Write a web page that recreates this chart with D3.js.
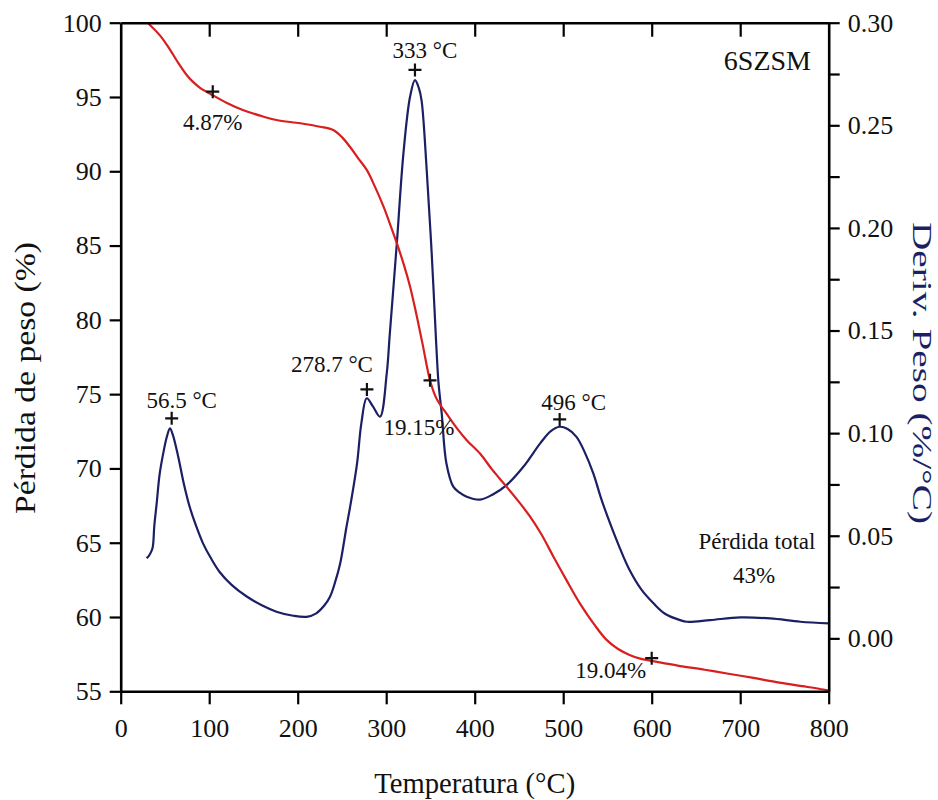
<!DOCTYPE html>
<html><head><meta charset="utf-8">
<script src="https://cdn.jsdelivr.net/npm/d3@7"></script>
<style>
body{margin:0;background:#fff}
svg text{font-family:"Liberation Serif","Times New Roman",serif;fill:#111}
</style>
</head><body>
<svg id="chart" width="938" height="800"></svg>
<script>
// ---- data ----
const tgaTemp = [30,33,45,56,65,75,82,90,101,120,138,160,176,203,225,240,250,259,268,278,287,297,304,312,320,327,334,341,349.5,356,362,368,380,391,406,420,436,450,462,475,489,504,519,535,549,562,575,587,600,615,632,660,685,715,741,770,794,800];
const tgaWeight = [100,99.85,99.1,98.16,97.3,96.45,96.0,95.6,95.22,94.6,94.13,93.7,93.45,93.23,93.0,92.78,92.3,91.65,90.9,90.09,89.0,87.62,86.5,85.16,83.7,82.23,80.4,78.4,75.93,74.8,74.2,73.7,72.7,71.9,71.0,69.9,68.77,67.75,66.8,65.6,64.06,62.45,60.9,59.5,58.46,57.85,57.45,57.2,57.05,56.88,56.7,56.45,56.2,55.9,55.62,55.35,55.12,55.05];

const dtgTemp = [29.4,33,36,38,40.7,44,48,52,55.7,59,65,71,78,85,93,102,112,125,142,160,176,195,210,221,230,236.5,242,248,255,260,267,272,278,285,293,300.6,304,312,319.4,327,332.5,337,340,345.8,351.4,356.3,359,362.7,368,375.8,383,391,406,420,436,455,474,486,496,505,515,524,534,543,553,564,575,588,602,615,632,640,666,700,734,768,800];
const dtgDeriv = [0.039,0.041,0.044,0.055,0.066,0.080,0.090,0.098,0.1023,0.099,0.0885,0.076,0.064,0.055,0.0463,0.039,0.0322,0.0262,0.0205,0.016,0.013,0.011,0.0105,0.0122,0.016,0.0203,0.027,0.0365,0.054,0.066,0.085,0.105,0.117,0.113,0.108,0.129,0.148,0.1925,0.236,0.264,0.272,0.268,0.262,0.228,0.1876,0.1454,0.125,0.1097,0.0853,0.0739,0.071,0.069,0.0676,0.070,0.0747,0.0836,0.095,0.101,0.1031,0.102,0.0982,0.091,0.0804,0.068,0.056,0.044,0.0333,0.024,0.0171,0.012,0.0089,0.0081,0.0089,0.0102,0.0097,0.0081,0.0073];

const xTicks = [0,100,200,300,400,500,600,700,800];
const leftTicks = [55,60,65,70,75,80,85,90,95,100];
const rightTicks = [0,0.05,0.10,0.15,0.20,0.25,0.30];
const rightMinorTicks = [0.025,0.075,0.125,0.175,0.225,0.275];

const markerTemp = [104,57.6,278.2,332.5,349.5,496,600];
const markerValue = [95.36,0.1072,0.1213,0.277,75.93,0.1067,57.23];
const markerSeries = ["TGA","DTG","DTG","DTG","TGA","DTG","TGA"];
const markerLabel = ["4.87%","56.5 °C","278.7 °C","333 °C","19.15%","496 °C","19.04%"];

const sampleName = "6SZSM";
const totalLabel = ["Pérdida total","43%"];

// ---- layout ----
const L = 120.7, R = 828.7, T = 22.7, B = 691.3;
const labelOffsets = [[0,38],[10,-10],[-35,-17],[10,-12],[-11,55],[14,-9],[-41,20]];
const red = "#d81e1e", navy = "#1b1f63";

const svg = d3.select("#chart");
svg.append("rect").attr("width",938).attr("height",800).attr("fill","#fff");

const x = d3.scaleLinear().domain([0,800]).range([L,R]);
const yL = d3.scaleLinear().domain([55,100]).range([B,T]);
const yR = d3.scaleLinear().domain([-0.0258,0.30]).range([B,T]);

// curves
const tgaData = tgaTemp.map((t,i)=>[t,tgaWeight[i]]);
const dtgData = dtgTemp.map((t,i)=>[t,dtgDeriv[i]]);

svg.append("path").datum(dtgData)
  .attr("fill","none").attr("stroke",navy).attr("stroke-width",2.2)
  .attr("d", d3.line().x(d=>x(d[0])).y(d=>yR(d[1])).curve(d3.curveCatmullRom.alpha(0.5)));
svg.append("path").datum(tgaData)
  .attr("fill","none").attr("stroke",red).attr("stroke-width",2.2)
  .attr("d", d3.line().x(d=>x(d[0])).y(d=>yL(d[1])).curve(d3.curveCatmullRom.alpha(0.5)));

// axes
function styleAxis(g){
  g.attr("font-family",null);
  g.select(".domain").attr("stroke","#000").attr("stroke-width",2.6);
  g.selectAll(".tick line").attr("stroke","#000").attr("stroke-width",2.2);
  g.selectAll(".tick text").attr("fill","#111").style("font-size","26px")
   .style("font-family",'"Liberation Serif","Times New Roman",serif');
}
const gB = svg.append("g").attr("transform",`translate(0,${B})`)
  .call(d3.axisBottom(x).tickValues(xTicks).tickSize(13).tickSizeOuter(0).tickFormat(d3.format("d")));
styleAxis(gB);
gB.selectAll(".tick text").attr("y",46).attr("dy",0);

const gT = svg.append("g").attr("transform",`translate(0,${T})`)
  .call(d3.axisBottom(x).tickValues(xTicks.slice(1,-1)).tickSize(14).tickSizeOuter(0).tickFormat(""));
styleAxis(gT);

const gL = svg.append("g").attr("transform",`translate(${L},0)`)
  .call(d3.axisLeft(yL).tickValues(leftTicks).tickSize(11).tickSizeOuter(0).tickPadding(8).tickFormat(d3.format("d")));
styleAxis(gL);

const gR = svg.append("g").attr("transform",`translate(${R},0)`)
  .call(d3.axisRight(yR).tickValues(rightTicks).tickSize(11).tickSizeOuter(0).tickPadding(8).tickFormat(d3.format(".2f")));
styleAxis(gR);
const gRm = svg.append("g").attr("transform",`translate(${R},0)`)
  .call(d3.axisRight(yR).tickValues(rightMinorTicks).tickSize(11).tickSizeOuter(0).tickFormat(""));
styleAxis(gRm);
gRm.select(".domain").remove();

// axis titles
svg.append("text").attr("x",(L+R)/2).attr("y",793).attr("text-anchor","middle")
  .style("font-size","29px").attr("textLength",201).attr("lengthAdjust","spacingAndGlyphs")
  .text("Temperatura (°C)");
svg.append("text").attr("transform","translate(35,378) rotate(-90)").attr("text-anchor","middle")
  .style("font-size","30px").attr("textLength",272).attr("lengthAdjust","spacingAndGlyphs")
  .text("Pérdida de peso (%)");
svg.append("text").attr("transform","translate(913,373) rotate(90)").attr("text-anchor","middle")
  .style("font-size","28px").attr("textLength",302).attr("lengthAdjust","spacingAndGlyphs")
  .style("fill",navy).text("Deriv. Peso (%/°C)");

// markers and labels
markerTemp.forEach((t,i)=>{
  const px = x(t);
  const py = markerSeries[i]==="TGA" ? yL(markerValue[i]) : yR(markerValue[i]);
  svg.append("path").attr("d",`M${px-6.5},${py}H${px+6.5}M${px},${py-6.5}V${py+6.5}`)
    .attr("stroke","#111").attr("stroke-width",2.2);
  svg.append("text").attr("x",px+labelOffsets[i][0]).attr("y",py+labelOffsets[i][1])
    .attr("text-anchor","middle").style("font-size","23px").text(markerLabel[i]);
});

svg.append("text").attr("x",811).attr("y",70).attr("text-anchor","end")
  .style("font-size","28px").text(sampleName);
svg.append("text").attr("x",757).attr("y",549).attr("text-anchor","middle")
  .style("font-size","23px").text(totalLabel[0]);
svg.append("text").attr("x",754).attr("y",583).attr("text-anchor","middle")
  .style("font-size","23px").text(totalLabel[1]);
</script>
</body></html>
